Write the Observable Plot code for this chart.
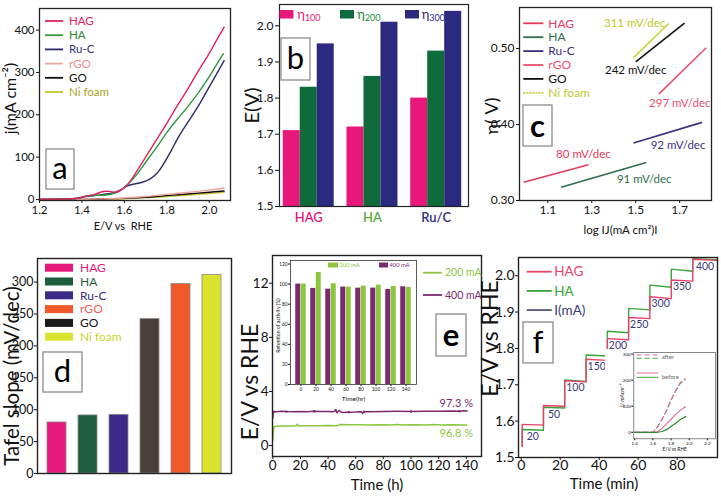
<!DOCTYPE html>
<html><head><meta charset="utf-8">
<script src="https://cdn.jsdelivr.net/npm/d3@7"></script>
<script src="https://cdn.jsdelivr.net/npm/@observablehq/plot@0.6"></script>
<style>
html,body{margin:0;padding:0;background:#fff;}
#fig{position:relative;width:721px;height:497px;overflow:hidden;background:#fff;font-family:Lato,sans-serif;}
#fig svg{position:absolute;}
</style></head><body><div id="fig"></div>
<script>
// ================= DATA =================
// (a) LSV curves
const aSeries = ["HAG","HA","Ru-C","rGO","GO","Ni foam"];
const aXTicks = [1.2,1.4,1.6,1.8,2.0];
const aYTicks = [0,100,200,300,400];
const hagE = [1.2,1.3,1.38,1.42,1.46,1.5,1.53,1.56,1.6,1.63,1.66,1.7,1.75,1.8,1.85,1.9,1.95,2.0,2.03,2.07];
const hagJ = [0,1,3,8,12,19,19,17,28,45,68,100,140,180,222,262,305,345,372,407];
const haE  = [1.2,1.3,1.38,1.42,1.46,1.5,1.54,1.58,1.62,1.66,1.7,1.75,1.8,1.85,1.9,1.95,2.0,2.03,2.066];
const haJ  = [0,1,3,8,10,10,13,21,38,60,88,122,158,190,220,253,290,315,344];
const rucE = [1.2,1.3,1.38,1.42,1.46,1.5,1.54,1.58,1.61,1.64,1.68,1.72,1.75,1.78,1.82,1.86,1.9,1.95,2.0,2.07];
const rucJ = [0,1,3,7,9,12,15,22,31,36,40,48,60,80,115,152,183,222,266,328];
const bgE  = [1.2,1.4,1.5,1.6,1.7,1.8,1.9,2.0,2.07];
const rgoJ = [0,0.5,1.5,3.5,7,12,17,22,27];
const goJ  = [0,0.3,1,2.5,5,9,13,17,20];
const niJ  = [-1,-0.5,0.2,1.5,4,7,10.5,14,17];

// (b) potentials at 100/200/300 mA
const bCats = ["HAG","HA","Ru/C"];
const bSeries = ["η100","η200","η300"];
const bEta100 = [1.71,1.72,1.80];
const bEta200 = [1.83,1.86,1.93];
const bEta300 = [1.95,2.01,2.04];
const bYTicks = [1.5,1.6,1.7,1.8,1.9,2.0];

// (c) Tafel lines
const cNames = ["HAG","HA","Ru-C","rGO","GO","Ni foam"];
const cSlopeLabels = ["80 mV/dec","91 mV/dec","92 mV/dec","297 mV/dec","242 mV/dec","311 mV/dec"];
const cX1 = [0.99,1.16,1.49,1.605,1.50,1.49];
const cY1 = [0.324,0.3175,0.3757,0.440,0.4825,0.488];
const cX2 = [1.285,1.548,1.802,1.821,1.722,1.65];
const cY2 = [0.347,0.350,0.4028,0.501,0.5333,0.533];
const cXTicks = [1.1,1.3,1.5,1.7];
const cYTicks = [0.30,0.40,0.50];

// (d) Tafel slopes
const dNames = ["HAG","HA","Ru-C","GO","rGO","Ni foam"];
const dSlopes = [80,91,92,242,297,311];
const dYTicks = [0,50,100,150,200,250,300];
const dLegendNames = ["HAG","HA","Ru-C","rGO","GO","Ni foam"];

// (e) stability
const e200T = [0,0.3,0.7,2,6,10,14,17,17.8,18.5,22,28,34,40,46,47.5,48.5,55,62,70,78,86,90,94,102,110,115,116,122,130,136,140.5];
const e200V = [0.35,0.9,1.38,1.42,1.44,1.45,1.45,1.46,1.58,1.44,1.46,1.47,1.46,1.48,1.47,1.48,1.56,1.54,1.53,1.52,1.53,1.52,1.55,1.52,1.53,1.52,1.53,1.56,1.52,1.53,1.52,1.52];
const e400T = [0,0.2,0.5,1,3,6,10,15,20,25,30,35,40,44,45.5,46.5,48,50,55,60,64,65,66,70,80,90,100,110,120,130,135,138,140.5];
const e400V = [2.0,2.35,2.48,2.52,2.5,2.53,2.51,2.5,2.52,2.5,2.53,2.51,2.52,2.5,2.62,2.42,2.6,2.45,2.47,2.48,2.5,2.38,2.5,2.5,2.52,2.53,2.52,2.53,2.54,2.55,2.54,2.58,2.55];
const eXTicks = [0,20,40,60,80,100,120,140];
const eYTicks = [0,4,8,12];
const ePercent = ["97.3 %","96.8 %"];
// (e) inset retention
const retT = [0,20,40,60,80,100,120,140];
const ret400 = [100,95.7,95,97,96,96,94.7,97.3];
const ret200 = [100,111.5,100.3,97,98,99,97.7,96.8];
const retYTicks = [0,20,40,60,80,100,120];

// (f) chronopotentiometry
const fCurrents = [20,50,100,150,200,250,300,350,400];
const fStepStart = [0.5,11.4,22.3,33.3,44.2,55.1,66.0,77.0,88.0];
const fLastEnd = 100.6;
const fInitE = 1.53;
const fHAGStart = [1.591,1.643,1.711,1.770,1.827,1.885,1.942,1.988,2.045];
const fHAGEnd   = [1.589,1.641,1.708,1.767,1.824,1.882,1.937,1.985,2.042];
const fHAStart  = [1.577,1.638,1.713,1.782,1.847,1.910,1.974,2.018,2.047];
const fHAEnd    = [1.575,1.636,1.709,1.779,1.843,1.906,1.968,2.012,2.044];
const fXTicks = [0,20,40,60,80];
const fYTicks = [1.5,1.6,1.7,1.8,1.9,2.0];
// (f) inset LSV before / after
const fiE = [1.4,1.6,1.65,1.7,1.75,1.8,1.85,1.9,1.96];
const fiAfterHAG  = [0,0,20,50,85,125,160,190,205];
const fiAfterHA   = [0,0,18,47,82,121,156,186,201];
const fiBeforeHAG = [0,0,2,15,32,50,68,84,98];
const fiBeforeHA  = [0,0,0,3,10,22,35,48,60];
const fiXTicks = [1.4,1.6,1.8,2.0,2.2];
const fiYTicks = [0,100,200,300];

// ================= HELPERS =================
const FONT = "Lato, 'Open Sans', 'DejaVu Sans', sans-serif";
const fig = document.getElementById("fig");
function place(svg, left, top) { svg.style.left = left + "px"; svg.style.top = top + "px"; fig.appendChild(svg); return svg; }
function st(size, bg) { return {fontFamily: FONT, fontSize: size + "px", background: bg || "transparent", overflow: "visible", color: "#111"}; }
function title(txt, o) { return Plot.text([txt], {text: d => d, fill: "#111", textAnchor: "middle", lineAnchor: "middle", ...o}); }
function letterBox(svg, x, y, w, h, letter, bold) {
  const g = d3.select(svg).append("g");
  g.append("rect").attr("x", x).attr("y", y).attr("width", w).attr("height", h)
    .attr("fill", "#fff").attr("stroke", "#8c8c8c").attr("stroke-width", 1.3);
  g.append("text").attr("x", x + w / 2).attr("y", y + h / 2).attr("dy", bold ? "0.36em" : "0.33em")
    .attr("text-anchor", "middle").attr("font-size", 31).attr("font-family", FONT)
    .attr("font-weight", bold ? "bold" : "normal").attr("fill", "#000").text(letter);
}
function lineLegend(svg, items, o) {
  const g = d3.select(svg).append("g").attr("font-family", FONT).attr("font-size", o.fontSize).attr("text-anchor", "start");
  items.forEach((it, i) => {
    const y = o.y0 + i * o.dy;
    g.append("line").attr("x1", o.x1).attr("x2", o.x2).attr("y1", y).attr("y2", y)
      .attr("stroke", it.color).attr("stroke-width", it.width || 1.8).attr("stroke-dasharray", it.dash || null);
    if (it.label) g.append("text").attr("x", o.tx).attr("y", y).attr("dy", "0.35em").attr("fill", it.text || it.color).text(it.label);
  });
}
function rectLegend(svg, items, o) {
  const g = d3.select(svg).append("g").attr("font-family", FONT).attr("font-size", o.fontSize).attr("text-anchor", "start");
  items.forEach((it, i) => {
    const y = o.y0 + i * o.dy;
    g.append("rect").attr("x", o.x).attr("y", y - o.h / 2).attr("width", o.w).attr("height", o.h).attr("fill", it.color);
    g.append("text").attr("x", o.tx).attr("y", y).attr("dy", "0.35em").attr("fill", it.text || it.color).text(it.label);
  });
}

// ================= PANEL a =================
{
  const aLine = ["#e3225c","#2a9a3a","#2c2c6c","#f2a2a0","#111111","#c8c42a"];
  const aText = ["#e3225c","#2a8a2a","#33337a","#f08c8c","#111111","#a8a41a"];
  const rows = [];
  const add = (s, E, J) => E.forEach((e, i) => rows.push({s, e, j: J[i]}));
  add("Ni foam", bgE, niJ); add("GO", bgE, goJ); add("rGO", bgE, rgoJ);
  add("Ru-C", rucE, rucJ); add("HA", haE, haJ); add("HAG", hagE, hagJ);
  const svg = Plot.plot({
    width: 240, height: 245, marginLeft: 39, marginRight: 10, marginTop: 8, marginBottom: 45,
    style: st(11.5),
    x: {domain: [1.2, 2.1], ticks: aXTicks, tickFormat: ".1f", tickSize: 3, tickPadding: 2, label: null},
    y: {domain: [-2.4, 451], ticks: aYTicks, tickSize: 3, tickPadding: 2, label: null},
    color: {domain: aSeries, range: aLine},
    marks: [
      Plot.line(rows, {x: "e", y: "j", z: "s", stroke: "s", strokeWidth: 1.4, curve: "catmull-rom"}),
      Plot.frame({stroke: "#222", strokeWidth: 1.3}),
      title("j(mA cm⁻²)", {frameAnchor: "left", rotate: -90, dx: -29, dy: -6, fontSize: 16}),
      title("E/V vs  RHE", {frameAnchor: "bottom", dx: -12, dy: 26, fontSize: 11})
    ]
  });
  place(svg, 0, 0);
  lineLegend(svg, aSeries.map((s, i) => ({label: s, color: aLine[i], text: aText[i]})), {x1: 45, x2: 63, tx: 69, y0: 21, dy: 14.2, fontSize: 11.5});
  letterBox(svg, 46, 149, 28, 40, "a");
}

// ================= PANEL b =================
{
  const bColors = ["#e8177b","#0f6b3b","#2b2a80"];
  const bTextColors = ["#e8177b","#1e8a3c","#2b2a80"];
  const bCatColors = ["#e8177b","#5aab3c","#2e2e80"];
  const GROUP = 3.75;
  const vals = [bEta100, bEta200, bEta300];
  const rows = bCats.flatMap((c, ci) => vals.map((arr, si) => ({cat: c, ci, series: bSeries[si], si, v: arr[ci]})));
  const svg = Plot.plot({
    width: 240, height: 245, marginLeft: 39, marginRight: 12, marginTop: 4, marginBottom: 39,
    style: st(12),
    x: {domain: [-0.22, 10.9], axis: null},
    y: {domain: [1.5, 2.059], ticks: bYTicks, tickFormat: ".1f", tickSize: 4, tickPadding: 2, label: null},
    color: {domain: bSeries, range: bColors},
    marks: [
      Plot.rect(rows, {x1: d => d.ci * GROUP + d.si, x2: d => d.ci * GROUP + d.si + 1, y1: 1.5, y2: "v", fill: "series"}),
      Plot.frame({stroke: "#222", strokeWidth: 1.2}),
      ...bCats.map((c, i) => Plot.text([c], {x: i * GROUP + 1.5, frameAnchor: "bottom", lineAnchor: "middle", dy: 11, text: d => d, fill: bCatColors[i], fontSize: 13, fontWeight: 600})),
      title("E(V)", {frameAnchor: "left", rotate: -90, dx: -27, fontSize: 20})
    ]
  });
  place(svg, 240, 0);
  const g = d3.select(svg).append("g").attr("font-family", FONT).attr("text-anchor", "start");
  const lx = [39.5, 100, 165], tx = [57.3, 117.3, 181.7];
  bSeries.forEach((s, i) => {
    g.append("rect").attr("x", lx[i]).attr("y", 10).attr("width", 14).attr("height", 8.5).attr("fill", bColors[i]);
    const t = g.append("text").attr("x", tx[i]).attr("y", 14).attr("dy", "0.35em").attr("fill", bTextColors[i]).attr("font-size", 13);
    t.append("tspan").text(s.slice(0, 1));
    t.append("tspan").attr("dy", "0.3em").attr("font-size", 9).text(s.slice(1));
  });
  letterBox(svg, 41, 38, 29, 42, "b");
}

// ================= PANEL c =================
{
  const cColors = ["#e3395a","#2e6e4b","#3b2f80","#e9506b","#111111","#c9d336"];
  const cText = ["#e3395a","#2e6e4b","#3b2f80","#e9506b","#111111","#bfc82a"];
  const rows = cNames.map((n, i) => ({n, x1: cX1[i], y1: cY1[i], x2: cX2[i], y2: cY2[i], lab: cSlopeLabels[i]}));
  // label placement offsets (pixels) relative to a line end point
  const lab = [
    {end: 2, dx: -5, dy: -10}, {end: 2, dx: -2, dy: 17}, {end: 2, dx: -24, dy: 23},
    {end: 1, dx: 21, dy: 9}, {end: 1, dx: 0, dy: 8}, {end: 2, dx: -34, dy: 0}
  ];
  const svg = Plot.plot({
    width: 241, height: 245, marginLeft: 39, marginRight: 10, marginTop: 7, marginBottom: 45,
    style: st(12),
    x: {domain: [0.971, 1.845], ticks: cXTicks, tickFormat: ".1f", tickSize: 3, tickPadding: 2, label: null},
    y: {domain: [0.30, 0.554], ticks: cYTicks, tickFormat: ".2f", tickSize: 3, tickPadding: 2, label: null},
    color: {domain: cNames, range: cColors},
    marks: [
      Plot.link(rows, {x1: "x1", y1: "y1", x2: "x2", y2: "y2", stroke: "n", strokeWidth: 1.6}),
      ...rows.map((r, i) => Plot.text([r], {x: lab[i].end === 2 ? "x2" : "x1", y: lab[i].end === 2 ? "y2" : "y1", dx: lab[i].dx, dy: lab[i].dy, text: "lab", fill: cText[i], fontSize: 11.5})),
      Plot.frame({stroke: "#222", strokeWidth: 1.3}),
      title("η( V)", {frameAnchor: "left", rotate: -90, dx: -27, dy: 12, fontSize: 18}),
      title("log IJ(mA cm²)I", {frameAnchor: "bottom", dx: 5, dy: 30, fontSize: 11.5})
    ]
  });
  place(svg, 480, 0);
  lineLegend(svg, cNames.map((s, i) => ({label: s, color: cColors[i], text: cText[i], dash: s === "Ni foam" ? "2,1" : null})), {x1: 43.3, x2: 63.3, tx: 68.3, y0: 23.3, dy: 13.9, fontSize: 12});
  letterBox(svg, 43, 105, 29, 41, "c", true);
}

// ================= PANEL d =================
{
  const dColors = ["#e8197c","#1f5e3c","#3c2a86","#4a4038","#f05a2a","#d9e22c"];
  const legColors = {"HAG": "#e8197c", "HA": "#1f5e3c", "Ru-C": "#3c2a86", "rGO": "#f05a2a", "GO": "#1a1a1a", "Ni foam": "#d9e22c"};
  const legText = {"HAG": "#e8197c", "HA": "#1f5e3c", "Ru-C": "#3c2a86", "rGO": "#f0605a", "GO": "#111", "Ni foam": "#c8d42a"};
  const rows = dNames.map((n, i) => ({n, v: dSlopes[i]}));
  const svg = Plot.plot({
    width: 240, height: 252, marginLeft: 37, marginRight: 9, marginTop: 13, marginBottom: 24,
    style: st(12.5),
    x: {domain: dNames, paddingInner: 0.4, paddingOuter: 0.24, axis: null},
    y: {domain: [0, 337], ticks: dYTicks, tickSize: 3, tickPadding: 1, label: null},
    color: {domain: dNames, range: dColors},
    marks: [
      Plot.barY(rows, {x: "n", y: "v", fill: "n", stroke: "#8a8a8a", strokeWidth: 0.8}),
      Plot.frame({stroke: "#222", strokeWidth: 1.4}),
      title("Tafel slope (mV/dec)", {frameAnchor: "left", rotate: -90, dx: -25, dy: 10, fontSize: 20.5})
    ]
  });
  place(svg, 0, 245);
  rectLegend(svg, dLegendNames.map(s => ({label: s, color: legColors[s], text: legText[s]})), {x: 45, w: 28, h: 8, tx: 80, y0: 22.7, dy: 13.8, fontSize: 12});
  letterBox(svg, 43, 107, 39, 40, "d");
}

// ================= PANEL e =================
{
  const purple = "#7b2a6f", green = "#8cc63e";
  const rows200 = e200T.map((t, i) => ({t, v: e200V[i]}));
  const rows400 = e400T.map((t, i) => ({t, v: e400V[i]}));
  const svg = Plot.plot({
    width: 242, height: 252, marginLeft: 32, marginRight: 1, marginTop: 10, marginBottom: 41,
    style: st(13.5),
    x: {domain: [-0.2, 151], ticks: eXTicks, tickSize: 3, tickPadding: 1, label: null},
    y: {domain: [-0.81, 14.05], ticks: eYTicks, tickSize: 3, tickPadding: 1, label: null},
    marks: [
      Plot.line(rows200, {x: "t", y: "v", stroke: green, strokeWidth: 1.5}),
      Plot.line(rows400, {x: "t", y: "v", stroke: purple, strokeWidth: 1.5}),
      Plot.dot(rows400.filter((d, i) => i % 4 === 2), {x: "t", y: "v", r: 1.2, fill: purple}),
      Plot.text([rows400[rows400.length - 1]], {x: "t", y: "v", text: () => ePercent[0], textAnchor: "end", dx: 6, dy: -8, fill: purple, fontSize: 11}),
      Plot.text([rows200[rows200.length - 1]], {x: "t", y: "v", text: () => ePercent[1], textAnchor: "end", dx: 6, dy: 8, fill: green, fontSize: 11}),
      Plot.frame({stroke: "#222", strokeWidth: 1.4}),
      title("E/V vs RHE", {frameAnchor: "left", rotate: -90, dx: -22, dy: 26, fontSize: 23}),
      title("Time (h)", {frameAnchor: "bottom", dx: 0, dy: 29, fontSize: 15})
    ]
  });
  place(svg, 240, 245);
  lineLegend(svg, [{label: "200 mA", color: green}, {label: "400 mA", color: purple}], {x1: 183, x2: 202, tx: 205, y0: 27.7, dy: 22.3, fontSize: 10.5});
  letterBox(svg, 196, 69, 30, 42, "e", true);

  // inset: retention of activity
  const retRows = retT.flatMap((t, i) => [{t: String(t), s: "400 mA", v: ret400[i]}, {t: String(t), s: "200 mA", v: ret200[i]}]);
  const ins = Plot.plot({
    width: 146, height: 146, marginLeft: 16, marginRight: 4, marginTop: 3, marginBottom: 19,
    style: st(4.8, "#fff"),
    x: {type: "band", domain: retT.map(String), paddingInner: 0.64, paddingOuter: 0.44, tickSize: 2, tickPadding: 1, label: null},
    y: {domain: [0, 123.5], ticks: retYTicks, tickSize: 2, tickPadding: 1, label: null},
    marks: [
      Plot.barY(retRows.filter(d => d.s === "400 mA"), {x: "t", y: "v", fill: purple, dx: -2.75}),
      Plot.barY(retRows.filter(d => d.s === "200 mA"), {x: "t", y: "v", fill: green, dx: 2.75}),
      Plot.frame({stroke: "#333", strokeWidth: 0.8}),
      title("Retention of activity (%)", {frameAnchor: "left", rotate: -90, dx: -12, dy: 3, fontSize: 5.2}),
      title("Time(hr)", {frameAnchor: "bottom", dy: 14, fontSize: 6.5})
    ]
  });
  place(ins, 274, 257);
  rectLegend(ins, [{label: "200 mA", color: green}], {x: 54, w: 10, h: 5, tx: 65.5, y0: 8, dy: 0, fontSize: 5.8});
  rectLegend(ins, [{label: "400 mA", color: purple}], {x: 105, w: 9, h: 5, tx: 115.5, y0: 8, dy: 0, fontSize: 5.8});
}

// ================= PANEL f =================
{
  const pink = "#e8426a", grn = "#3aa53a", navy = "#3a3a7a";
  const rows = [];
  [["HA", fHAStart, fHAEnd], ["HAG", fHAGStart, fHAGEnd]].forEach(([s, sv, ev]) => {
    rows.push({s, t: fStepStart[0], v: fInitE});
    fStepStart.forEach((t0, i) => {
      const t1 = i + 1 < fStepStart.length ? fStepStart[i + 1] : fLastEnd;
      rows.push({s, t: t0, v: sv[i]});
      rows.push({s, t: t1, v: ev[i]});
    });
  });
  const stepEnd = i => i + 1 < fStepStart.length ? fStepStart[i + 1] : fLastEnd;
  const svg = Plot.plot({
    width: 239, height: 252, marginLeft: 36, marginRight: 4, marginTop: 12, marginBottom: 40,
    style: st(14),
    x: {domain: [-1.4, 100.7], ticks: fXTicks, tickSize: 3, tickPadding: 0, label: null},
    y: {domain: [1.5, 2.05], ticks: fYTicks, tickFormat: ".1f", tickSize: 3, tickPadding: 1, label: null},
    color: {domain: ["HAG", "HA"], range: [pink, grn]},
    marks: [
      Plot.line(rows, {x: "t", y: "v", z: "s", stroke: "s", strokeWidth: 1.4, clip: true}),
      Plot.text(fCurrents, {x: (d, i) => (fStepStart[i] + stepEnd(i)) / 2, y: (d, i) => Math.min(fHAGStart[i], fHAStart[i]), dy: 7, text: d => String(d), fill: navy, fontSize: 10.5}),
      Plot.frame({stroke: "#222", strokeWidth: 1.4}),
      title("E/V vs RHE", {frameAnchor: "left", rotate: -90, dx: -28, dy: -19, fontSize: 23}),
      title("Time (min)", {frameAnchor: "bottom", dx: -14, dy: 27, fontSize: 15})
    ]
  });
  place(svg, 482, 245);
  lineLegend(svg, [{label: "HAG", color: pink}, {label: "HA", color: grn}, {label: "I(mA)", color: "#555577", text: navy}], {x1: 44.7, x2: 69.7, tx: 72.3, y0: 26.7, dy: 19.2, fontSize: 13.5});
  letterBox(svg, 41, 77, 30, 41, "f");

  // inset LSV before/after
  const ir = [];
  const addI = (s, J) => fiE.forEach((e, i) => ir.push({s, e, j: J[i]}));
  addI("after HA", fiAfterHA); addI("after HAG", fiAfterHAG); addI("before HA", fiBeforeHA); addI("before HAG", fiBeforeHAG);
  const ins = Plot.plot({
    width: 111, height: 106, marginLeft: 28.3, marginRight: 1, marginTop: 3, marginBottom: 16.7,
    style: st(4.6, "#fff"),
    x: {domain: [1.39, 2.29], ticks: fiXTicks, tickFormat: ".1f", tickSize: 2, tickPadding: 1, label: null},
    y: {domain: [-25, 306], ticks: fiYTicks, tickSize: 2, tickPadding: 1, label: null},
    marks: [
      Plot.line(ir.filter(d => d.s === "after HA"), {x: "e", y: "j", stroke: grn, strokeWidth: 1, strokeDasharray: "5,3"}),
      Plot.line(ir.filter(d => d.s === "after HAG"), {x: "e", y: "j", stroke: "#e86a9a", strokeWidth: 1.1, strokeDasharray: "5,3"}),
      Plot.line(ir.filter(d => d.s === "before HAG"), {x: "e", y: "j", stroke: "#e86a9a", strokeWidth: 1.1}),
      Plot.line(ir.filter(d => d.s === "before HA"), {x: "e", y: "j", stroke: "#2f8a2f", strokeWidth: 1.2}),
      Plot.frame({stroke: "#555", strokeWidth: 0.7}),
      title("J/ mAcm⁻²", {frameAnchor: "left", rotate: -90, dx: -11.6, dy: 0, fontSize: 5.5, fontStyle: "italic"}),
      title("E/V vs RHE", {frameAnchor: "bottom", dy: 11, fontSize: 4.8})
    ]
  });
  place(ins, 605, 349);
  lineLegend(ins, [{label: "", color: "#e86a9a", dash: "5,3", width: 1}, {label: "", color: grn, dash: "5,3", width: 1}], {x1: 31.7, x2: 53.3, tx: 56, y0: 6, dy: 3.3, fontSize: 5.5});
  lineLegend(ins, [{label: "", color: "#e86a9a", width: 1}, {label: "", color: grn, width: 1}], {x1: 31.7, x2: 53.3, tx: 56, y0: 24, dy: 4.3, fontSize: 5.5});
  const lg = d3.select(ins).append("g").attr("font-family", FONT).attr("font-size", 6).attr("fill", "#666").attr("text-anchor", "start");
  lg.append("text").attr("x", 56.7).attr("y", 10.3).text("after");
  lg.append("text").attr("x", 56.7).attr("y", 29.7).text("before");
}
</script></body></html>
